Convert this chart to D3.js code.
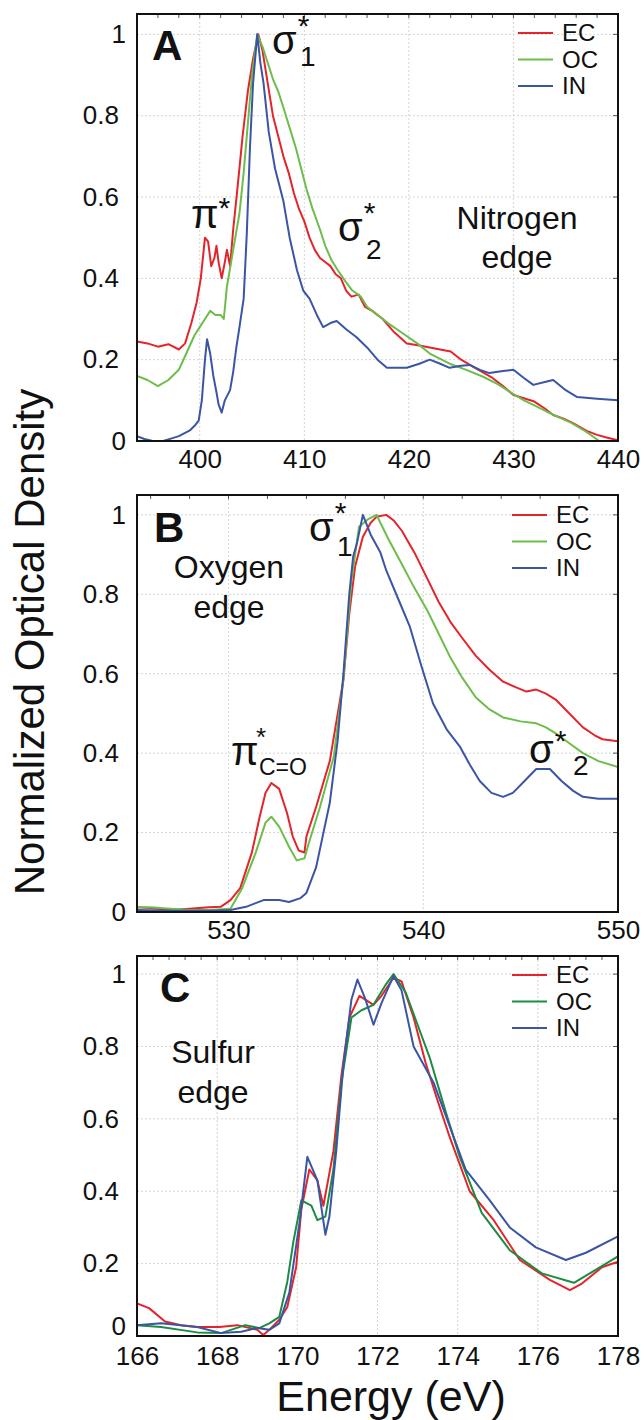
<!DOCTYPE html>
<html><head><meta charset="utf-8">
<script src="https://cdn.jsdelivr.net/npm/d3@7"></script>
<style>
body{margin:0;background:#fff;}
svg text{font-family:"Liberation Sans",Arial,Helvetica,sans-serif;}
</style></head>
<body><svg id="c" width="644" height="1420"></svg>
<script>
// ---------- DATA ----------
const seriesNames = ["EC","OC","IN"];
const yTicks = [0,0.2,0.4,0.6,0.8,1];
const yTickLabels = ["0","0.2","0.4","0.6","0.8","1"];

const nitrogenDomain = [394,440];
const nitrogenTicks = [400,410,420,430,440];
const nitrogenEC = [[394,0.245],[395,0.24],[396,0.232],[397,0.238],[398,0.225],[398.6,0.24],[399.2,0.29],[399.7,0.34],[400.1,0.40],[400.5,0.50],[400.8,0.49],[401.1,0.43],[401.4,0.45],[401.6,0.48],[401.8,0.44],[402.1,0.40],[402.4,0.44],[402.6,0.47],[402.9,0.43],[403.2,0.52],[403.6,0.62],[404.1,0.75],[404.6,0.86],[405.1,0.94],[405.6,1.0],[406.0,0.96],[406.5,0.88],[407,0.80],[407.5,0.75],[408,0.70],[408.5,0.66],[409,0.61],[409.5,0.57],[410,0.54],[410.5,0.50],[411,0.47],[411.5,0.45],[412,0.44],[412.5,0.43],[413,0.41],[413.5,0.40],[414,0.37],[414.5,0.355],[415.2,0.36],[415.8,0.33],[416.5,0.32],[417.5,0.30],[418.5,0.27],[419.8,0.24],[421,0.235],[422,0.23],[423,0.225],[424,0.22],[425,0.2],[426,0.185],[427,0.17],[428,0.155],[429,0.135],[430,0.113],[431,0.105],[432,0.097],[433,0.08],[433.8,0.064],[434.8,0.055],[435.7,0.044],[437,0.025],[438,0.015],[439,0.008],[440,0.002]];
const nitrogenOC = [[394,0.16],[395,0.15],[396,0.135],[397,0.15],[398,0.175],[398.8,0.22],[399.5,0.26],[400,0.28],[400.5,0.30],[401,0.32],[401.5,0.31],[402,0.31],[402.3,0.30],[402.6,0.38],[403.0,0.44],[403.4,0.50],[403.8,0.56],[404.2,0.66],[404.6,0.78],[405,0.90],[405.5,1.0],[406,0.97],[406.5,0.93],[407,0.89],[407.5,0.86],[408,0.82],[408.6,0.77],[409.2,0.72],[409.6,0.68],[410.2,0.62],[410.8,0.57],[411.5,0.52],[412,0.48],[412.6,0.445],[413.2,0.42],[414,0.39],[414.6,0.37],[415.4,0.355],[416,0.33],[417,0.31],[418,0.29],[419.4,0.265],[420.8,0.24],[422,0.215],[423.9,0.19],[425.5,0.175],[427.1,0.158],[428.5,0.14],[429.7,0.12],[431,0.10],[432.2,0.085],[433.2,0.072],[434.2,0.06],[435.5,0.045],[436.7,0.027],[437.5,0.013],[438.2,0.0]];
const nitrogenIN = [[394,0.012],[394.7,0.005],[395.5,0.0],[396.5,0.0],[397.4,0.007],[398,0.012],[398.6,0.02],[399.1,0.027],[399.6,0.04],[399.9,0.05],[400.2,0.10],[400.5,0.20],[400.7,0.25],[401,0.215],[401.3,0.16],[401.6,0.12],[401.8,0.09],[402.1,0.07],[402.4,0.10],[402.9,0.125],[403.2,0.17],[403.5,0.23],[403.8,0.28],[404.2,0.35],[404.5,0.51],[404.8,0.72],[405.1,0.88],[405.5,1.0],[405.8,0.93],[406.1,0.88],[406.6,0.76],[407.2,0.67],[408,0.59],[408.6,0.50],[409.3,0.42],[409.9,0.37],[410.5,0.35],[411.2,0.31],[411.8,0.28],[412.5,0.29],[413.1,0.295],[414,0.275],[415,0.255],[416,0.23],[417,0.20],[417.9,0.18],[419.8,0.18],[421,0.19],[422,0.20],[423,0.19],[423.9,0.18],[425,0.185],[425.8,0.187],[426.8,0.175],[427.7,0.167],[429,0.172],[430,0.175],[431,0.155],[431.9,0.138],[433,0.145],[433.8,0.15],[435,0.125],[436.1,0.108],[438,0.104],[440,0.10]];

const oxygenDomain = [525.3,550];
const oxygenTicks = [530,540,550];
const oxygenEC = [[525.3,0.012],[526,0.01],[527,0.005],[528,0.008],[529,0.012],[529.6,0.013],[530.1,0.03],[530.6,0.06],[531.2,0.15],[531.6,0.24],[531.9,0.30],[532.2,0.325],[532.6,0.31],[533,0.25],[533.3,0.19],[533.6,0.155],[533.9,0.15],[534,0.19],[534.5,0.265],[535.2,0.38],[535.9,0.585],[536.2,0.75],[536.5,0.87],[536.9,0.945],[537.3,0.98],[537.6,0.995],[538.1,1.0],[538.5,0.985],[538.9,0.96],[539.6,0.90],[540.2,0.84],[540.8,0.78],[541.4,0.73],[542,0.69],[542.7,0.645],[543.4,0.61],[544.1,0.58],[544.8,0.565],[545.3,0.555],[545.8,0.56],[546.3,0.55],[546.8,0.535],[547.5,0.50],[548.2,0.465],[548.8,0.445],[549.2,0.435],[550,0.43]];
const oxygenOC = [[525.3,0.012],[526,0.012],[527,0.008],[528,0.005],[529,0.005],[530.1,0.008],[530.7,0.06],[531.4,0.15],[531.9,0.225],[532.2,0.24],[532.6,0.215],[533.1,0.165],[533.5,0.13],[533.9,0.135],[534.1,0.17],[534.7,0.265],[535.4,0.39],[535.9,0.585],[536.3,0.83],[536.7,0.97],[537.2,0.99],[537.6,1.0],[538.2,0.94],[538.8,0.885],[539.5,0.82],[540.2,0.76],[540.8,0.70],[541.4,0.64],[542,0.59],[542.7,0.54],[543.4,0.51],[544.1,0.49],[545,0.48],[545.8,0.475],[546.3,0.465],[546.8,0.45],[547.5,0.425],[548.2,0.40],[549,0.38],[550,0.365]];
const oxygenIN = [[525.3,0.005],[527,0.003],[529,0.003],[530.1,0.005],[530.9,0.013],[531.8,0.03],[532.6,0.03],[533.1,0.025],[533.7,0.035],[534,0.048],[534.5,0.113],[535.2,0.275],[535.6,0.43],[535.9,0.60],[536.2,0.80],[536.4,0.895],[536.6,0.93],[536.9,1.0],[537.3,0.95],[537.8,0.905],[538.1,0.86],[538.7,0.79],[539.3,0.72],[539.9,0.62],[540.5,0.525],[541.2,0.46],[541.9,0.415],[542.4,0.37],[542.9,0.33],[543.5,0.30],[544.1,0.29],[544.6,0.30],[545.2,0.33],[545.8,0.36],[546.5,0.36],[547.1,0.33],[547.7,0.305],[548.2,0.29],[549,0.285],[550,0.285]];

const sulfurDomain = [166,178];
const sulfurTicks = [166,168,170,172,174,176,178];
const sulfurEC = [[166,0.09],[166.3,0.077],[166.7,0.04],[167.1,0.03],[167.5,0.025],[168.05,0.025],[168.5,0.03],[169,0.017],[169.15,0.003],[169.3,0.017],[169.55,0.045],[169.75,0.08],[169.97,0.19],[170.1,0.35],[170.3,0.46],[170.5,0.43],[170.65,0.36],[170.9,0.51],[171.1,0.72],[171.3,0.88],[171.55,0.94],[171.9,0.915],[172.1,0.94],[172.4,0.99],[172.6,0.98],[172.9,0.88],[173.2,0.755],[173.5,0.65],[173.8,0.55],[174.3,0.40],[174.9,0.32],[175.55,0.21],[176.3,0.155],[176.8,0.127],[177.1,0.145],[177.6,0.19],[178,0.205]];
const sulfurOC = [[166,0.03],[166.6,0.025],[167.5,0.01],[168.1,0.008],[168.7,0.03],[169.05,0.022],[169.3,0.035],[169.55,0.053],[169.75,0.15],[169.9,0.26],[170.1,0.375],[170.35,0.36],[170.5,0.32],[170.7,0.33],[170.9,0.46],[171.1,0.70],[171.35,0.88],[171.6,0.9],[171.9,0.915],[172.2,0.97],[172.4,1.0],[172.7,0.95],[173,0.86],[173.3,0.77],[173.7,0.62],[174.05,0.495],[174.6,0.34],[175.3,0.237],[176.1,0.173],[176.9,0.147],[177.4,0.18],[178,0.22]];
const sulfurIN = [[166,0.03],[166.6,0.035],[167.5,0.025],[168.1,0.008],[168.6,0.012],[169,0.022],[169.3,0.017],[169.55,0.035],[169.8,0.12],[170.05,0.31],[170.25,0.495],[170.5,0.43],[170.7,0.28],[170.8,0.33],[170.97,0.51],[171.15,0.75],[171.35,0.93],[171.5,0.985],[171.7,0.93],[171.9,0.86],[172.1,0.92],[172.4,0.995],[172.6,0.955],[172.9,0.80],[173.4,0.70],[173.8,0.58],[174.2,0.46],[174.8,0.375],[175.3,0.30],[175.95,0.245],[176.7,0.21],[177.2,0.23],[178,0.275]];

const colorsAB = ["#e4242b","#6dbd4b","#3b55a5"];
const colorsC  = ["#e4242b","#1d8c42","#3b55a5"];

// ---------- LAYOUT ----------
const svg = d3.select("#c");
const L = 137, R = 618;
const panels = [
  {top:14,  bottom:441, dom:nitrogenDomain, ticks:nitrogenTicks, data:[nitrogenEC,nitrogenOC,nitrogenIN], colors:colorsAB, letter:"A", letterPos:[152,60], legY:33, legX:518, zeroShift:0, xPad:7},
  {top:495, bottom:912, dom:oxygenDomain, ticks:oxygenTicks, data:[oxygenEC,oxygenOC,oxygenIN], colors:colorsAB, letter:"B", letterPos:[154,542], legY:515, legX:512, zeroShift:0, xPad:7},
  {top:956, bottom:1336, dom:sulfurDomain, ticks:sulfurTicks, data:[sulfurEC,sulfurOC,sulfurIN], colors:colorsC, letter:"C", letterPos:[160,1002], legY:975, legX:512, zeroShift:-10, xPad:9}
];

panels.forEach((p,pi)=>{
  const x = d3.scaleLinear().domain(p.dom).range([L,R]);
  const y = d3.scaleLinear().domain([0,1.05]).range([p.bottom,p.top]);
  const g = svg.append("g");
  const clipId = "clip"+pi;
  svg.append("clipPath").attr("id",clipId).append("rect").attr("x",L).attr("y",p.top).attr("width",R-L).attr("height",p.bottom-p.top);
  // grid
  g.selectAll(".gx").data(p.ticks).join("line")
    .attr("x1",d=>x(d)).attr("x2",d=>x(d)).attr("y1",p.top).attr("y2",p.bottom)
    .attr("stroke","#d4d4d4").attr("stroke-width",1).attr("stroke-dasharray","2,2");
  g.selectAll(".gy").data(yTicks).join("line")
    .attr("x1",L).attr("x2",R).attr("y1",d=>y(d)).attr("y2",d=>y(d))
    .attr("stroke","#d4d4d4").attr("stroke-width",1).attr("stroke-dasharray","2,2");
  // minor ticks on top
  const step = (p.ticks[1]-p.ticks[0])/5;
  const minor = d3.range(Math.ceil(p.dom[0]/step)*step, p.dom[1]+1e-9, step);
  g.selectAll(".mt").data(minor).join("line")
    .attr("x1",d=>x(d)).attr("x2",d=>x(d)).attr("y1",p.top).attr("y2",p.top+4)
    .attr("stroke","#555").attr("stroke-width",1);
  // right ticks
  g.selectAll(".rt").data(yTicks).join("line")
    .attr("x1",R-5).attr("x2",R).attr("y1",d=>y(d)).attr("y2",d=>y(d))
    .attr("stroke","#555").attr("stroke-width",1);
  // lines
  const line = d3.line().x(d=>x(d[0])).y(d=>y(d[1])).curve(d3.curveLinear);
  const lg = g.append("g").attr("clip-path",`url(#${clipId})`);
  p.data.forEach((s,si)=>{
    lg.append("path").datum(s).attr("d",line).attr("fill","none")
      .attr("stroke",p.colors[si]).attr("stroke-width",2).attr("stroke-linejoin","round");
  });
  // frame
  g.append("rect").attr("x",L).attr("y",p.top).attr("width",R-L).attr("height",p.bottom-p.top)
    .attr("fill","none").attr("stroke","#111").attr("stroke-width",2);
  // axes labels
  const xAxis = d3.axisBottom(x).tickValues(p.ticks).tickSize(0).tickPadding(p.xPad).tickFormat(d3.format("d"));
  const xa = g.append("g").attr("transform",`translate(0,${p.bottom})`).call(xAxis);
  xa.select(".domain").remove();
  xa.selectAll("text").attr("font-size",26).attr("fill","#111").attr("dy","0.75em").style("font-family","Liberation Sans, Arial, sans-serif");
  const yAxis = d3.axisLeft(y).tickValues(yTicks).tickSize(0).tickPadding(11).tickFormat((d,i)=>yTickLabels[i]);
  const ya = g.append("g").attr("transform",`translate(${L},0)`).call(yAxis);
  ya.select(".domain").remove();
  ya.selectAll("text").attr("font-size",26).attr("fill","#111").style("font-family","Liberation Sans, Arial, sans-serif")
    .attr("x",(d)=> (d===0||d===1) ? -11 : -18)
    .attr("y",(d)=> d===0 ? p.zeroShift : 0);
  // letter
  g.append("text").attr("x",p.letterPos[0]).attr("y",p.letterPos[1]).attr("font-size",42).attr("font-weight","bold").attr("fill","#111").text(p.letter);
  // legend
  seriesNames.forEach((n,si)=>{
    const ly = p.legY + si*26.5;
    g.append("line").attr("x1",p.legX).attr("x2",p.legX+35).attr("y1",ly).attr("y2",ly).attr("stroke",p.colors[si]).attr("stroke-width",2);
    g.append("text").attr("x",p.legX+44).attr("y",ly).attr("dy","0.35em").attr("font-size",24).attr("fill","#111").text(n);
  });
});

// ---------- ANNOTATIONS ----------
// Panel A
let t = svg.append("text").attr("x",272).attr("y",54).attr("font-size",40).attr("fill","#111");
t.append("tspan").text("σ");
t.append("tspan").attr("font-size",30).attr("dx",1).attr("dy",-18).text("*");
t.append("tspan").attr("font-size",28).attr("x",300).attr("dy",30).text("1");

t = svg.append("text").attr("x",191).attr("y",228).attr("font-size",40).attr("fill","#111");
t.append("tspan").text("π");
t.append("tspan").attr("font-size",30).attr("dy",-10).text("*");

t = svg.append("text").attr("x",338).attr("y",241).attr("font-size",40).attr("fill","#111");
t.append("tspan").text("σ");
t.append("tspan").attr("font-size",30).attr("dx",1).attr("dy",-18).text("*");
t.append("tspan").attr("font-size",28).attr("x",366).attr("dy",36).text("2");

svg.append("text").attr("x",517).attr("y",229).attr("text-anchor","middle").attr("font-size",32).attr("fill","#111").text("Nitrogen");
svg.append("text").attr("x",517).attr("y",268).attr("text-anchor","middle").attr("font-size",32).attr("fill","#111").text("edge");

// Panel B
t = svg.append("text").attr("x",309).attr("y",541).attr("font-size",40).attr("fill","#111");
t.append("tspan").text("σ");
t.append("tspan").attr("font-size",30).attr("dx",1).attr("dy",-18).text("*");
t.append("tspan").attr("font-size",28).attr("x",337).attr("dy",33).text("1");

svg.append("text").attr("x",231).attr("y",765).attr("font-size",40).attr("fill","#111").text("π");
svg.append("text").attr("x",256).attr("y",746).attr("font-size",26).attr("fill","#111").text("*");
svg.append("text").attr("x",259).attr("y",775).attr("font-size",23).attr("fill","#111").text("C=O");

t = svg.append("text").attr("x",529).attr("y",763).attr("font-size",40).attr("fill","#111");
t.append("tspan").text("σ");
t.append("tspan").attr("font-size",30).attr("dx",1).attr("dy",-12).text("*");
t.append("tspan").attr("font-size",28).attr("x",573).attr("dy",24).text("2");

svg.append("text").attr("x",229).attr("y",578).attr("text-anchor","middle").attr("font-size",32).attr("fill","#111").text("Oxygen");
svg.append("text").attr("x",229).attr("y",618).attr("text-anchor","middle").attr("font-size",32).attr("fill","#111").text("edge");

// Panel C
svg.append("text").attr("x",213).attr("y",1063).attr("text-anchor","middle").attr("font-size",32).attr("fill","#111").text("Sulfur");
svg.append("text").attr("x",213).attr("y",1103).attr("text-anchor","middle").attr("font-size",32).attr("fill","#111").text("edge");

// axis titles
svg.append("text").attr("transform","translate(44,642) rotate(-90)").attr("text-anchor","middle")
  .attr("font-size",42).attr("fill","#111").text("Normalized Optical Density");
svg.append("text").attr("x",391).attr("y",1411).attr("text-anchor","middle")
  .attr("font-size",43).attr("fill","#111").text("Energy (eV)");
</script></body></html>
